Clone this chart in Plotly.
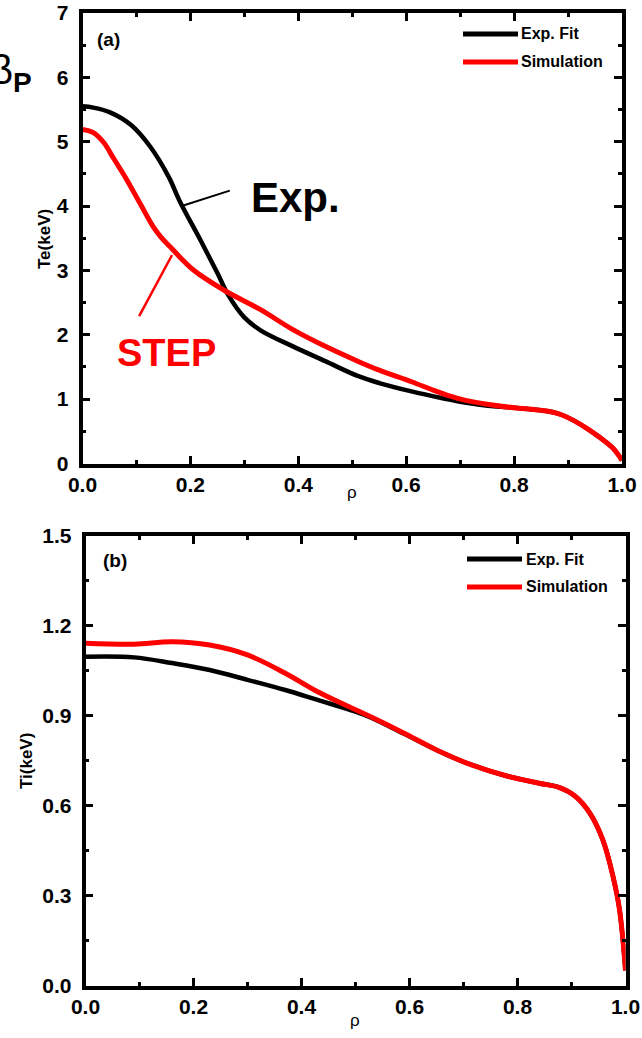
import plotly.graph_objects as go

# ---------------- data ----------------
rho_te_exp = [0.0, 0.02, 0.05, 0.09, 0.125, 0.16, 0.18, 0.22, 0.25, 0.27, 0.30, 0.33, 0.39, 0.45,
              0.51, 0.55, 0.61, 0.67, 0.70, 0.74, 0.80, 0.84, 0.87, 0.89, 0.91, 0.934, 0.958,
              0.983, 1.0]
te_exp = [5.55, 5.53, 5.46, 5.26, 4.93, 4.45, 4.08, 3.45, 2.96, 2.62, 2.27, 2.07, 1.82, 1.59,
          1.36, 1.25, 1.12, 1.01, 0.96, 0.91, 0.865, 0.835, 0.80, 0.75, 0.67, 0.55, 0.41,
          0.24, 0.05]

rho_te_sim = [0.0, 0.02, 0.04, 0.057, 0.082, 0.106, 0.131, 0.145, 0.162, 0.205, 0.261, 0.33, 0.39,
              0.45, 0.51, 0.55, 0.61, 0.65, 0.68, 0.71, 0.75, 0.80, 0.84, 0.87, 0.89, 0.91, 0.934,
              0.958, 0.983, 1.0]
te_sim = [5.19, 5.14, 4.98, 4.75, 4.41, 4.05, 3.68, 3.52, 3.37, 3.01, 2.70, 2.39, 2.08,
          1.82, 1.59, 1.45, 1.27, 1.14, 1.05, 0.98, 0.92, 0.865, 0.835, 0.80, 0.75, 0.67, 0.55,
          0.41, 0.24, 0.05]

rho_ti = [0.0, 0.09, 0.16, 0.23, 0.30, 0.37, 0.43, 0.50, 0.53, 0.59, 0.65, 0.715, 0.78, 0.84,
          0.877, 0.908, 0.934, 0.958, 0.977, 0.989, 1.0]
ti_exp = [1.097, 1.095, 1.076, 1.053, 1.02, 0.986, 0.953, 0.914, 0.893, 0.84, 0.786, 0.736, 0.699,
          0.675, 0.661, 0.63, 0.575, 0.486, 0.363, 0.252, 0.05]
ti_sim = [1.142, 1.139, 1.147, 1.136, 1.103, 1.042, 0.98, 0.92, 0.895, 0.842, 0.786, 0.736, 0.699,
          0.675, 0.661, 0.63, 0.575, 0.486, 0.363, 0.252, 0.05]

series_names = ["Exp. Fit", "Simulation"]
x_ticks = [0.0, 0.2, 0.4, 0.6, 0.8, 1.0]
te_ticks = [0, 1, 2, 3, 4, 5, 6, 7]
ti_ticks = [0.0, 0.3, 0.6, 0.9, 1.2, 1.5]

# ---------------- figure ----------------
W, H = 642, 1038
FONT = "Liberation Sans, Arial, sans-serif"
BLACK = "#000000"
RED = "#ff0000"

def px(x):
    return x / W

def py(y):
    return (H - y) / H

LS = dict(shape="spline", smoothing=1.0)

fig = go.Figure()
fig.add_trace(go.Scatter(x=rho_te_exp, y=te_exp, mode="lines", name=series_names[0],
                         line=dict(color=BLACK, width=4.5, **LS),
                         xaxis="x", yaxis="y", showlegend=False))
fig.add_trace(go.Scatter(x=rho_te_sim, y=te_sim, mode="lines", name=series_names[1],
                         line=dict(color=RED, width=5, **LS),
                         xaxis="x", yaxis="y", showlegend=False))
fig.add_trace(go.Scatter(x=rho_ti, y=ti_exp, mode="lines", name=series_names[0],
                         line=dict(color=BLACK, width=4.5, **LS),
                         xaxis="x2", yaxis="y2", showlegend=False))
fig.add_trace(go.Scatter(x=rho_ti, y=ti_sim, mode="lines", name=series_names[1],
                         line=dict(color=RED, width=5, **LS),
                         xaxis="x2", yaxis="y2", showlegend=False))

tickfont = dict(family=FONT, size=21, color=BLACK, weight="bold")

def xax(domain, anchor):
    return dict(domain=domain, anchor=anchor, range=[0, 1], tickvals=x_ticks,
                ticktext=[f"{v:.1f}" for v in x_ticks], ticks="inside", ticklen=8, tickwidth=3,
                tickcolor=BLACK, showline=True, linewidth=3.5, linecolor=BLACK, mirror="allticks",
                showgrid=False, zeroline=False, tickfont=tickfont, ticklabelstandoff=0,
                automargin=False,
                minor=dict(dtick=0.1, ticks="inside", ticklen=4, tickwidth=3, tickcolor=BLACK,
                           showgrid=False))

def yax(domain, anchor, rng, tv, fmt, mdt):
    return dict(domain=domain, anchor=anchor, range=rng, tickvals=tv,
                ticktext=[fmt.format(v) for v in tv], ticks="inside", ticklen=8, tickwidth=3,
                tickcolor=BLACK, showline=True, linewidth=3.5, linecolor=BLACK, mirror="allticks",
                showgrid=False, zeroline=False, tickfont=tickfont, ticklabelstandoff=6,
                automargin=False,
                minor=dict(dtick=mdt, ticks="inside", ticklen=4, tickwidth=3, tickcolor=BLACK,
                           showgrid=False))

top_x = [px(82.5), px(622)]
top_y = [py(463.5), py(13)]
bot_x = [px(85.5), px(625.5)]
bot_y = [py(985.5), py(536)]

def ann(text, x, y, size, color=BLACK, **kw):
    d = dict(text=text, x=px(x), y=py(y), xref="paper", yref="paper", showarrow=False,
             xanchor="center", yanchor="middle", font=dict(family=FONT, size=size, color=color))
    d.update(kw)
    return d

annotations = [
    # axis titles
    ann("<b>Te(keV)</b>", 44, 239, 17, textangle=-90),
    ann("<b>Ti(keV)</b>", 26, 761, 17, textangle=-90),
    ann("ρ", 352, 492, 17),
    ann("ρ", 355, 1020, 17),
    # panel labels
    ann("<b>(a)</b>", 108, 39, 19),
    ann("<b>(b)</b>", 115, 560, 19),
    # big labels
    dict(text="<b>Exp.</b>", x=0.395, y=4.14, xref="x", yref="y", showarrow=False,
         font=dict(family=FONT, size=42, color=BLACK)),
    dict(text="<b>STEP</b>", x=0.156, y=1.72, xref="x", yref="y", showarrow=False,
         font=dict(family=FONT, size=38, color=RED)),
    # cut-off beta_P
    ann("β<b><sub>P</sub></b>", -12, 73, 40, xanchor="left"),
]

# legend texts
for lx, y1, y2 in [(519, 34, 62), (524, 559, 587)]:
    annotations.append(ann("<b>Exp. Fit</b>", lx, y1, 16, xanchor="left"))
    annotations.append(ann("<b>Simulation</b>", lx, y2, 16, xanchor="left"))

shapes = [
    # pointer lines
    dict(type="line", x0=0.184, y0=4.00, x1=0.273, y1=4.24, xref="x", yref="y",
         line=dict(color=BLACK, width=2)),
    dict(type="line", x0=0.166, y0=3.24, x1=0.105, y1=2.29, xref="x", yref="y",
         line=dict(color=RED, width=2.5)),
]
# legend samples
for x0, x1, y, c in [(463, 518, 34, BLACK), (463, 518, 62, RED),
                     (467, 522, 559, BLACK), (467, 522, 587, RED)]:
    shapes.append(dict(type="line", x0=px(x0), x1=px(x1), y0=py(y), y1=py(y),
                       xref="paper", yref="paper", line=dict(color=c, width=5)))

fig.update_layout(
    width=W, height=H, margin=dict(l=0, r=0, t=0, b=0, autoexpand=False),
    paper_bgcolor="white", plot_bgcolor="white", showlegend=False,
    font=dict(family=FONT, color=BLACK),
    xaxis=xax(top_x, "y"),
    yaxis=yax(top_y, "x", [0, 7], te_ticks, "{:d}", 0.5),
    xaxis2=xax(bot_x, "y2"),
    yaxis2=yax(bot_y, "x2", [0, 1.5], ti_ticks, "{:.1f}", 0.15),
    annotations=annotations, shapes=shapes,
)

fig.write_html("out.html")
